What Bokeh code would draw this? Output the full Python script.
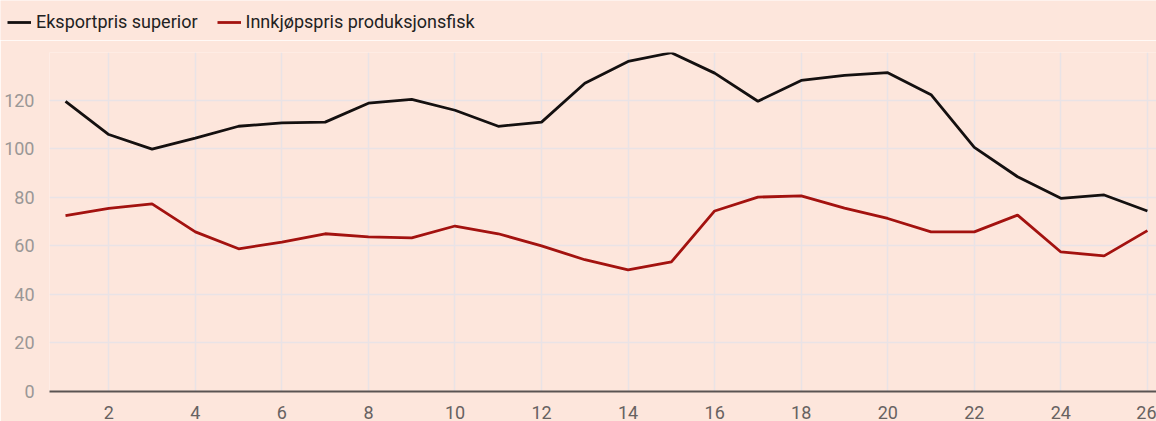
from bokeh.plotting import figure
from bokeh.models import Legend, LegendItem, FixedTicker, Range1d
from bokeh.embed import file_html
from bokeh.resources import INLINE

weeks = list(range(1, 27))
eksport = [119.6, 105.9, 99.9, 104.4, 109.3, 110.7, 111.0, 118.8, 120.4, 115.9,
           109.3, 111.0, 127.0, 136.0, 139.6, 131.2, 119.6, 128.2, 130.3, 131.4,
           122.3, 100.6, 88.5, 79.6, 81.0, 74.4]
innkjop = [72.5, 75.5, 77.3, 65.8, 58.8, 61.6, 65.0, 63.7, 63.3, 68.2,
           65.0, 60.0, 54.3, 50.1, 53.4, 74.4, 80.1, 80.6, 75.6, 71.3,
           65.8, 65.8, 72.7, 57.5, 55.9, 66.3]
names = ["Eksportpris superior", "Innkjøpspris produksjonsfisk"]
colors = ["#141010", "#A3120F"]
y_ticks = [0, 20, 40, 60, 80, 100, 120]
x_ticks = list(range(2, 27, 2))

BG = "#FDE6DC"
FONT = "Roboto"
LW = 2.8

# legend strip (its own figure, no axes)
lg = figure(width=1156, height=40, output_backend="svg", toolbar_location=None,
            x_range=Range1d(0, 1), y_range=Range1d(0, 1),
            x_axis_location=None, y_axis_location=None,
            background_fill_color=BG, border_fill_color=BG,
            min_border=0)
lg.outline_line_color = None
lg.grid.visible = False
nan = float("nan")
lr1 = lg.line(x=[nan, nan], y=[nan, nan], line_color=colors[0], line_width=LW)
lr2 = lg.line(x=[nan, nan], y=[nan, nan], line_color=colors[1], line_width=LW)
legend = Legend(items=[LegendItem(label=names[0], renderers=[lr1]),
                       LegendItem(label=names[1], renderers=[lr2])],
                orientation="horizontal", location=(7, 8))
legend.background_fill_alpha = 0
legend.border_line_color = None
legend.margin = 0
legend.padding = 2
legend.spacing = 19
legend.glyph_width = 24
legend.glyph_height = 20
legend.label_height = 20
legend.label_standoff = 5
legend.label_text_font = FONT
legend.label_text_font_size = "18px"
legend.label_text_color = "#222222"
lg.add_layout(legend)

# main chart
p = figure(width=1156, height=381, output_backend="svg", toolbar_location=None,
           x_range=Range1d(0.63, 26.21), y_range=Range1d(0, 139.7),
           background_fill_color=BG, border_fill_color=BG,
           min_border_left=49, min_border_right=0, min_border_top=12, min_border_bottom=29)
p.outline_line_color = None

p.line(weeks, eksport, line_color=colors[0], line_width=LW)
p.line(weeks, innkjop, line_color=colors[1], line_width=LW)

p.xaxis.ticker = FixedTicker(ticks=x_ticks)
p.yaxis.ticker = FixedTicker(ticks=y_ticks)
for ax in (p.xaxis, p.yaxis):
    ax.major_tick_line_color = None
    ax.minor_tick_line_color = None
    ax.major_label_text_font = FONT
    ax.major_label_text_font_size = "18px"
p.yaxis.axis_line_color = None
p.yaxis.major_label_text_color = "#9A9796"
p.yaxis.major_label_standoff = 9
p.xaxis.axis_line_color = "#5A5453"
p.xaxis.axis_line_width = 2
p.xaxis.major_label_text_color = "#676261"
p.xaxis.major_label_standoff = 8

p.xgrid.grid_line_color = "#E9E3E6"
p.ygrid.grid_line_color = "#E9E3E6"
p.xgrid.grid_line_width = 1.5
p.ygrid.grid_line_width = 1.5

html = file_html([lg, p], INLINE)
html = html.replace("<body>", '<body style="background:%s">' % BG, 1)
open("out.html", "w").write(html)
